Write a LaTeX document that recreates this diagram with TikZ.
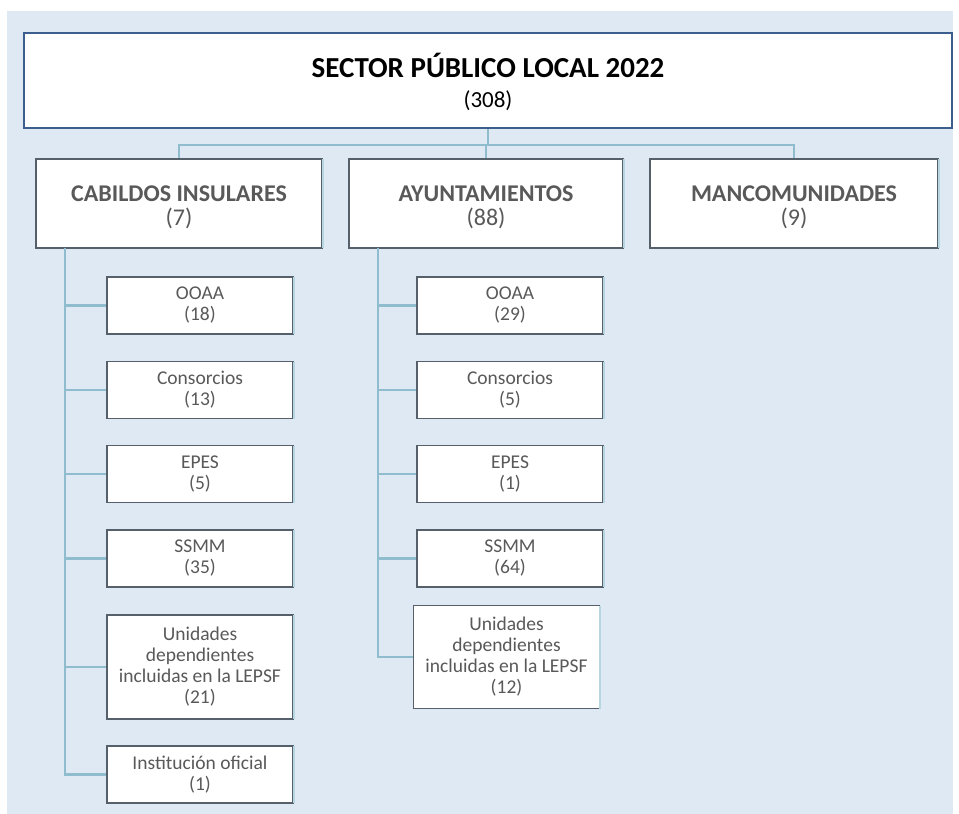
\documentclass[tikz,border=0pt]{standalone}
\usepackage{fontspec}
\setmainfont{Carlito}
\definecolor{bgblue}{HTML}{DEE9F4}
\definecolor{linkblue}{HTML}{8FBDCE}
\definecolor{boxgray}{HTML}{56606A}
\definecolor{edgeblue}{HTML}{B7D6E0}
\definecolor{topblue}{HTML}{3B5E8C}
\definecolor{txtgray}{HTML}{595959}
\tikzset{
  link/.style={draw=linkblue, line width=2.4pt},
  topbox/.style={draw=topblue, fill=white, line width=2.2pt, inner sep=0pt,
    minimum width=928pt, minimum height=95pt},
  titletext/.style={align=center, inner sep=0pt, text height=49pt, text depth=6pt,
    font=\fontsize{23}{30}\selectfont},
  lvlbox/.style={draw=boxgray, fill=white, line width=1.6pt, inner sep=0pt,
    minimum height=89pt, align=center, text=txtgray, text height=48pt, text depth=5pt,
    font=\fontsize{24}{24}\selectfont},
  subbox/.style={draw=boxgray, fill=white, line width=1.6pt, inner sep=0pt,
    minimum width=186pt, minimum height=57pt, align=center, text=txtgray,
    font=\fontsize{19.5}{21}\selectfont},
  tallbox/.style={subbox, minimum height=104pt},
  rightedge/.style={draw=edgeblue, line width=2pt}
}
\begin{document}
\begin{tikzpicture}[x=1pt,y=-1pt]
\useasboundingbox (0,0) rectangle (959,814);
\fill[bgblue] (7,11) rectangle (953,814);

% top
\node[topbox] (top) at (488,80.5) {};
\node[titletext] (title) at (488,85.5) {{\fontsize{29}{30}\selectfont\bfseries SECTOR PÚBLICO LOCAL 2022}\\(308)};

% level 1
\node[lvlbox, minimum width=286pt] (cab) at (179,203.5) {\textbf{CABILDOS INSULARES}\\(7)};
\node[lvlbox, minimum width=274pt] (ayu) at (486,203.5) {\textbf{AYUNTAMIENTOS}\\(88)};
\node[lvlbox, minimum width=288pt] (man) at (794,203.5) {\textbf{MANCOMUNIDADES}\\(9)};

% connectors top -> level1
\coordinate (hub) at (top.south |- 0,145);
\draw[link] (top.south) -- (hub);
\draw[link] (cab.north) |- (hub) -| (man.north);
\draw[link] (hub) -| (ayu.north);

% Cabildos children
\node[subbox] (c1) at (200,305.5) {OOAA\\(18)};
\node[subbox] (c2) at (200,390) {Consorcios\\(13)};
\node[subbox] (c3) at (200,474) {EPES\\(5)};
\node[subbox] (c4) at (200,558.5) {SSMM\\(35)};
\node[tallbox] (c5) at (200,667) {Unidades\\dependientes\\incluidas en la LEPSF\\(21)};
\node[subbox] (c6) at (200,774.5) {Institución oficial\\(1)};

\coordinate (cabtrunk) at (65,248);
\draw[link] (cabtrunk) |- (c6.west);
\foreach \n in {c1,c2,c3,c4,c5}{\draw[link] (cabtrunk |- \n.west) -- (\n.west);}

% Ayuntamientos children
\node[subbox] (a1) at (510,305.5) {OOAA\\(29)};
\node[subbox] (a2) at (510,390) {Consorcios\\(5)};
\node[subbox] (a3) at (510,474) {EPES\\(1)};
\node[subbox] (a4) at (510,558.5) {SSMM\\(64)};
\node[tallbox, minimum height=103pt] (a5) at (506.5,657) {Unidades\\dependientes\\incluidas en la LEPSF\\(12)};

\coordinate (ayutrunk) at (378,248);
\draw[link] (ayutrunk) |- (a5.west);
\foreach \n in {a1,a2,a3,a4}{\draw[link] (ayutrunk |- \n.west) -- (\n.west);}

% light right edges
\foreach \n in {cab,ayu,man,c1,c2,c3,c4,c5,c6,a1,a2,a3,a4,a5}{
  \draw[rightedge] ([yshift=-0.8pt]\n.north east) -- ([yshift=0.8pt]\n.south east);
}
\end{tikzpicture}
\end{document}
